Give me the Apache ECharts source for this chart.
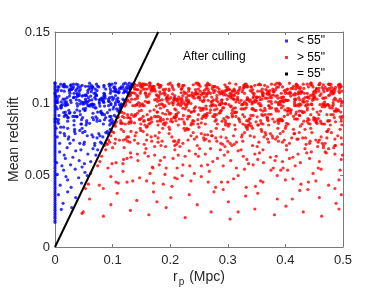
<!DOCTYPE html>
<html><head><meta charset="utf-8">
<script src="https://cdn.jsdelivr.net/npm/echarts@6/dist/echarts.min.js"></script>
<style>html,body{margin:0;padding:0;background:#fff}#c{width:382px;height:305px}</style>
</head><body><div id="c"></div>
<script>
// ---------- data ----------
const xTicks = [0, 0.1, 0.2, 0.3, 0.4, 0.5];
const yTicks = [0, 0.05, 0.1, 0.15];
const lineX = [0, 0.1792];          // = 55" boundary
const lineY = [0, 0.15];

// blue pairs sitting on r_p = 0
const blueAxisZ = [.0172,.0185,.0201,.0213,.0228,.0241,.0256,.0269,.0283,.0297,.0310,.0325,.0338,.0352,.0367,.0380,.0394,.0408,.0421,.0436,.0449,.0463,.0478,.0491,.0505,.0519,.0532,.0547,.0560,.0574,.0589,.0602,.0616,.0631,.0644,.0658,.0672,.0686,.0700,.0713,.0728,.0741,.0755,.0770,.0783,.0797,.0811,.0825,.0839,.0852,.0867,.0880,.0894,.0909,.0922,.0936,.0950,.0964,.0978,.0991,.1006,.1019,.1033,.1048,.1061,.1075,.1089,.1103,.1117,.1131,.1146];

const blueTop = [[.004,.1023],[.004,.1038],[.001,.1053],[.005,.1098],[.002,.1053],[.007,.1053],[.000,.1143],[.005,.1008],
[.014,.1121],[.018,.1001],[.011,.1091],[.018,.1121],[.017,.1031],[.014,.1031],[.010,.1136],[.016,.1136],
[.028,.1008],[.027,.1128],[.025,.1098],[.029,.1098],[.027,.1023],[.028,.1113],[.025,.1053],[.027,.1098],
[.039,.1061],[.038,.1001],[.037,.1046],[.031,.1106],[.036,.1091],[.037,.1136],[.033,.1046],[.032,.1136],
[.049,.1008],[.047,.1053],[.042,.1068],[.047,.1128],[.044,.1098],[.042,.1023],[.040,.1113],[.040,.1053],
[.058,.1121],[.055,.1001],[.053,.1121],[.057,.1076],[.053,.1061],[.053,.1031],[.057,.1091],[.054,.1016],
[.065,.1113],[.062,.1113],[.063,.1083],[.060,.1023],[.063,.1128],[.064,.1098],[.062,.1053],[.060,.1143],
[.071,.1031],[.072,.1136],[.077,.1001],[.072,.1061],[.079,.1031],[.074,.1121],[.073,.1091],[.070,.1076],
[.085,.1128],[.085,.1008],[.087,.1053],[.087,.1038],[.081,.1038],[.086,.1068],[.084,.1023],[.082,.1023],
[.094,.1136],[.097,.1001],[.099,.1136],[.099,.1046],[.095,.1121],[.093,.1016],[.094,.1016],[.093,.1031],
[.102,.1038],[.106,.1098],[.105,.1143],[.102,.1113],[.105,.1008],[.105,.1083],[.109,.1038],[.107,.1083],
[.115,.1106],[.119,.1136],[.119,.1076],[.110,.1076],[.110,.1016],[.111,.1076],[.112,.1106],[.118,.1031],
[.120,.1098],[.121,.1083],[.124,.1113],[.120,.1023],[.122,.1143],[.125,.1083],[.129,.1143],
[.131,.1121],[.133,.1136],[.135,.1136],[.130,.1106]];

const blueTopExtra = [[.002,.1012],[.005,.1117],[.000,.1072],[.007,.1117],[.004,.1087],[.003,.1012],
[.011,.1012],[.015,.1132],[.016,.1087],[.016,.1117],[.017,.1012],[.013,.0993],
[.021,.1042],[.020,.1012],[.025,.1087],[.021,.1117],[.026,.1072],[.028,.1132],
[.038,.1102],[.032,.1042],[.037,.1027],[.033,.1072],[.032,.1117],[.038,.1072],
[.040,.1132],[.042,.1087],[.044,.1117],[.046,.1012],[.042,.1057],[.049,.1057],
[.059,.1102],[.057,.1012],[.055,.1057],[.052,.1012],[.058,.1042],[.053,.1057],
[.062,.0993],[.064,.1027],[.068,.1072],[.066,.1117],[.066,.0993],[.069,.1042],
[.071,.1057],[.076,.1117],[.072,.1057],[.077,.1027],[.070,.1102],[.077,.1012],
[.084,.1042],[.085,.1117],[.085,.1057],[.088,.1102],[.084,.1012],[.085,.1072],
[.096,.1072],[.097,.0993],[.096,.1132],[.096,.1102],[.097,.1087],[.095,.1042],
[.107,.1027],[.100,.1027],[.102,.1087],[.104,.1117],[.105,.1057],[.104,.1102],
[.110,.1012],[.115,.1117],[.118,.1117],[.118,.0993],[.111,.1087],[.112,.0993],
[.127,.1072],[.122,.1087],[.125,.1102],[.128,.1117],[.126,.1132],
[.131,.1117],[.134,.1132],[.130,.1102]];

const blueMid = [[.006,.0888],[.000,.0873],[.004,.0963],[.002,.0978],[.005,.0873],[.007,.0918],
[.011,.0971],[.016,.0911],[.010,.0971],[.018,.0986],[.011,.0986],[.018,.0941],
[.020,.0993],[.025,.0933],[.022,.0903],[.022,.0993],[.023,.0903],[.020,.0918],
[.038,.0911],[.033,.0851],[.038,.0956],[.031,.0911],[.033,.0881],[.034,.0911],
[.045,.0858],[.048,.0903],[.049,.0963],[.046,.0888],[.046,.0858],[.043,.0948],
[.052,.0956],[.059,.0986],[.055,.0881],[.055,.0866],[.054,.0851],[.057,.0986],
[.068,.0993],[.066,.0978],[.067,.0888],[.065,.0903],[.063,.0993],[.066,.0933],
[.074,.0941],[.073,.0896],[.071,.0971],[.070,.0971],[.078,.0881],[.079,.0941],
[.084,.0858],[.086,.0888],[.080,.0948],[.081,.0933],[.082,.0933],[.088,.0903],
[.095,.0881],[.093,.0986],[.095,.0851],[.095,.0911],[.097,.0911],[.095,.0956],
[.102,.0978],[.107,.0963],[.105,.0993],[.109,.0948],[.101,.0963],[.103,.0918],
[.111,.0956],[.113,.0971],[.115,.0986],[.117,.0986],[.112,.0941],
[.002,.0893],[.006,.0863],[.000,.0893],[.010,.0983],[.015,.0938],[.018,.0923],
[.024,.0953],[.026,.0938],[.022,.0878],[.034,.0938],[.038,.0908],[.039,.0983],
[.048,.0998],[.043,.0998],[.044,.0923],[.053,.0968],[.050,.0998],[.052,.0953],
[.065,.0998],[.061,.0983],[.060,.0863],[.073,.0878],[.071,.0908],[.078,.0983],
[.082,.0923],[.086,.0923],[.086,.0983],[.091,.0938],[.097,.0863],[.098,.0893],
[.106,.0908],[.100,.0878],[.100,.0863],[.115,.0998],[.114,.0983],[.115,.0983],
[.009,.0798],[.004,.0768],[.002,.0828],[.008,.0723],[.010,.0836],[.017,.0776],[.016,.0791],[.015,.0836],
[.023,.0753],[.024,.0768],[.026,.0723],[.022,.0828],[.034,.0806],[.035,.0791],[.034,.0821],[.032,.0746],
[.043,.0813],[.048,.0798],[.047,.0828],[.043,.0723],[.056,.0776],[.052,.0806],[.051,.0731],[.050,.0716],
[.069,.0708],[.069,.0723],[.064,.0783],[.066,.0768],[.078,.0776],[.076,.0791],[.079,.0731],[.073,.0761],
[.083,.0768],[.088,.0798],[.081,.0723],[.092,.0791],[.096,.0821],[.091,.0806]];

const blueLow = [[.003,.0588],[.008,.0663],[.012,.0566],[.016,.0641],[.021,.0693],[.027,.0573],[.031,.0626],[.036,.0671],[.042,.0603],[.045,.0678],[.051,.0581],[.057,.0648],[.062,.0596],[.066,.0686],[.071,.0641],[.074,.0678],[.018,.0618],[.047,.0558],
[.004,.0506],[.009,.0431],[.015,.0536],[.022,.0468],[.028,.0416],[.035,.0543],[.041,.0483],[.046,.0446],[.052,.0521],[.056,.0498],[.019,.0491],
[.006,.0365],[.014,.0305],[.022,.0385],[.029,.0275],[.036,.0345],[.011,.0262]];

const redTop = [[.122,.1008],[.126,.1023],[.128,.1053],[.124,.1016],
[.131,.1061],[.131,.1076],[.139,.1031],[.136,.1076],[.133,.1076],[.138,.1136],[.137,.1136],[.133,.1031],
[.143,.1128],[.144,.1098],[.142,.1098],[.144,.1053],[.148,.1128],[.143,.1038],[.147,.1143],[.145,.1008],
[.152,.1121],[.158,.1061],[.151,.1136],[.157,.1016],[.156,.1136],[.153,.1136],[.159,.1046],[.157,.1076],
[.161,.1008],[.165,.1128],[.162,.1008],[.169,.1113],[.164,.1143],[.164,.1068],[.165,.1143],[.162,.1053],
[.170,.1106],[.178,.1016],[.176,.1061],[.170,.1091],[.172,.1121],[.176,.1031],[.170,.1121],[.179,.1136],
[.188,.1098],[.182,.1128],[.180,.1053],[.184,.1128],[.182,.1083],[.183,.1068],[.182,.1023],[.181,.1113],
[.190,.1091],[.197,.1136],[.198,.1031],[.191,.1061],[.198,.1001],[.198,.1091],[.195,.1016],[.193,.1031],
[.208,.1038],[.203,.1008],[.206,.1098],[.204,.1113],[.200,.1143],[.203,.1128],[.204,.1068],[.206,.1008],
[.219,.1076],[.215,.1001],[.215,.1121],[.212,.1031],[.213,.1016],[.217,.1031],[.215,.1046],[.215,.1136],
[.224,.1008],[.228,.1023],[.222,.1128],[.224,.1128],[.221,.1023],[.221,.1113],[.224,.1083],[.220,.1038],
[.238,.1061],[.231,.1001],[.232,.1106],[.230,.1016],[.239,.1046],[.238,.1076],[.232,.1016],[.236,.1001],
[.245,.1083],[.245,.1143],[.246,.1068],[.244,.1098],[.242,.1038],[.249,.1068],[.248,.1143],[.245,.1068],
[.259,.1046],[.250,.1046],[.258,.1016],[.259,.1091],[.254,.1061],[.252,.1121],[.256,.1016],[.250,.1136],
[.267,.1083],[.266,.1098],[.265,.1143],[.263,.1053],[.264,.1068],[.266,.1023],[.262,.1128],[.264,.1113],
[.275,.1091],[.274,.1121],[.272,.1046],[.273,.1106],[.278,.1091],[.277,.1121],[.273,.1016],[.276,.1076],
[.282,.1113],[.281,.1038],[.280,.1023],[.289,.1008],[.289,.1023],[.284,.1083],[.286,.1068],[.288,.1083],
[.296,.1091],[.299,.1031],[.293,.1061],[.296,.1001],[.297,.1061],[.298,.1091],[.291,.1001],[.294,.1076],
[.304,.1053],[.302,.1098],[.306,.1068],[.308,.1038],[.301,.1053],[.303,.1143],[.303,.1098],[.300,.1113],
[.312,.1091],[.310,.1031],[.314,.1136],[.311,.1061],[.311,.1031],[.317,.1046],[.317,.1031],[.314,.1076],
[.328,.1113],[.320,.1008],[.326,.1098],[.320,.1098],[.323,.1023],[.325,.1083],[.328,.1128],[.321,.1113],
[.334,.1121],[.338,.1016],[.335,.1031],[.330,.1136],[.332,.1001],[.339,.1091],[.332,.1121],[.332,.1136],
[.342,.1083],[.344,.1008],[.349,.1023],[.347,.1023],[.345,.1053],[.346,.1068],[.343,.1098],[.347,.1128],
[.359,.1031],[.355,.1136],[.350,.1046],[.356,.1001],[.350,.1016],[.351,.1046],[.353,.1001],[.355,.1046],
[.360,.1083],[.364,.1128],[.368,.1038],[.360,.1068],[.366,.1098],[.365,.1038],[.361,.1053],[.368,.1068],
[.371,.1061],[.376,.1136],[.375,.1016],[.379,.1061],[.371,.1076],[.371,.1016],[.376,.1001],[.373,.1091],
[.383,.1053],[.380,.1083],[.387,.1038],[.387,.1008],[.383,.1098],[.385,.1113],[.385,.1143],[.389,.1143],
[.391,.1136],[.395,.1046],[.390,.1136],[.392,.1016],[.398,.1091],[.391,.1016],[.397,.1046],[.398,.1016],
[.409,.1053],[.402,.1098],[.401,.1023],[.407,.1143],[.403,.1023],[.400,.1083],[.405,.1023],[.408,.1083],
[.414,.1121],[.410,.1106],[.414,.1061],[.416,.1031],[.413,.1106],[.419,.1136],[.418,.1031],[.417,.1061],
[.429,.1083],[.426,.1113],[.423,.1083],[.421,.1128],[.428,.1083],[.427,.1083],[.422,.1113],[.422,.1068],
[.438,.1136],[.431,.1031],[.432,.1106],[.439,.1046],[.438,.1016],[.438,.1046],[.430,.1016],[.431,.1136],
[.444,.1143],[.441,.1038],[.447,.1023],[.448,.1038],[.446,.1128],[.448,.1068],[.445,.1143],[.449,.1083],
[.450,.1061],[.455,.1031],[.453,.1076],[.453,.1091],[.450,.1031],[.458,.1106],[.454,.1106],[.451,.1046],
[.465,.1038],[.466,.1098],[.462,.1068],[.469,.1113],[.467,.1083],[.467,.1038],[.464,.1113],[.460,.1143],
[.473,.1091],[.479,.1136],[.479,.1076],[.475,.1136],[.477,.1061],[.479,.1091],[.476,.1136],[.476,.1106],
[.486,.1038],[.487,.1113],[.482,.1068],[.480,.1113],[.486,.1098],[.483,.1008],[.483,.1083],[.485,.1083],
[.494,.1106],[.495,.1136],[.494,.1076],[.497,.1016],[.493,.1121],[.492,.1016],[.497,.1121],[.495,.1031]];

const redTopExtra = [[.122,.1012],[.126,.1027],[.123,.0993],
[.139,.1072],[.130,.1057],[.138,.1117],[.130,.1012],[.136,.1117],[.138,.1102],
[.142,.1057],[.142,.0993],[.149,.1087],[.149,.1117],[.140,.1102],[.148,.1072],
[.156,.1132],[.156,.1102],[.151,.1117],[.157,.1072],[.153,.1102],[.159,.1132],
[.164,.1117],[.160,.1102],[.163,.1012],[.167,.1087],[.166,.1102],[.169,.1102],
[.173,.1102],[.179,.1132],[.170,.1102],[.173,.1027],[.174,.1087],[.178,.1057],
[.186,.1027],[.181,.0993],[.187,.0993],[.183,.1117],[.188,.1072],[.180,.1042],
[.198,.1102],[.195,.1042],[.194,.1042],[.192,.1102],[.196,.1057],[.191,.1072],
[.207,.1027],[.207,.1042],[.205,.0993],[.201,.1042],[.208,.1057],[.206,.1027],
[.213,.0993],[.219,.1012],[.212,.1027],[.219,.1102],[.210,.1027],[.214,.1132],
[.222,.1057],[.228,.1042],[.226,.0993],[.225,.1072],[.228,.1072],[.220,.1102],
[.233,.1102],[.232,.1012],[.232,.1087],[.234,.1057],[.231,.1027],[.231,.1057],
[.249,.1102],[.240,.1132],[.249,.1132],[.243,.1072],[.248,.1042],[.241,.1057],
[.251,.1042],[.252,.1027],[.252,.1087],[.256,.1072],[.259,.1027],[.257,.1072],
[.260,.1072],[.265,.1132],[.262,.1102],[.265,.1072],[.267,.1132],[.269,.1132],
[.275,.0993],[.270,.1072],[.271,.1012],[.275,.1027],[.277,.1117],[.272,.0993],
[.286,.0993],[.285,.1102],[.281,.1057],[.287,.0993],[.283,.1012],[.289,.1072],
[.295,.1132],[.299,.1102],[.291,.1087],[.290,.1072],[.297,.1117],[.290,.1027],
[.307,.1057],[.305,.1042],[.304,.1072],[.309,.1087],[.308,.1087],[.302,.0993],
[.311,.1057],[.317,.1027],[.318,.1072],[.311,.1102],[.314,.1012],[.318,.1087],
[.324,.0993],[.328,.1117],[.329,.1012],[.329,.1117],[.326,.0993],[.329,.1072],
[.335,.1027],[.333,.1027],[.339,.1027],[.333,.0993],[.334,.1117],[.334,.1042],
[.340,.1117],[.347,.1012],[.344,.1042],[.342,.1012],[.344,.1072],[.341,.1117],
[.353,.1132],[.357,.1087],[.352,.1087],[.350,.1042],[.356,.1027],[.357,.1132],
[.369,.1072],[.362,.1072],[.361,.1057],[.360,.1102],[.369,.1117],[.369,.1087],
[.378,.1102],[.372,.1072],[.373,.1042],[.379,.1087],[.375,.1057],[.376,.1042],
[.383,.1012],[.388,.0993],[.388,.1117],[.382,.1132],[.386,.1057],[.380,.1087],
[.392,.0993],[.396,.1012],[.395,.1027],[.395,.1117],[.393,.1072],[.392,.1042],
[.409,.1072],[.400,.1072],[.404,.1102],[.404,.1072],[.407,.1072],[.400,.1027],
[.418,.1102],[.417,.1072],[.419,.1132],[.416,.1012],[.417,.1027],[.419,.1117],
[.423,.1072],[.425,.1102],[.425,.1027],[.422,.0993],[.423,.1042],[.427,.1072],
[.433,.1012],[.438,.1072],[.437,.0993],[.431,.1012],[.433,.1072],[.434,.1042],
[.447,.1057],[.446,.0993],[.443,.1057],[.440,.1117],[.444,.1132],[.448,.1117],
[.454,.1102],[.451,.1087],[.450,.1042],[.458,.1087],[.458,.1132],[.459,.1132],
[.467,.0993],[.466,.1132],[.469,.0993],[.460,.1057],[.468,.1012],[.465,.0993],
[.473,.0993],[.475,.1057],[.474,.0993],[.472,.1102],[.477,.1132],[.470,.1042],
[.481,.1087],[.484,.1072],[.484,.1027],[.484,.1102],[.488,.1027],[.483,.0993],
[.496,.1117],[.494,.1132],[.492,.1132],[.493,.1087],[.499,.1012],[.498,.1087]];

const redMid = [[.102,.0851],[.104,.0858],[.107,.0873],[.109,.0903],
[.115,.0866],[.116,.0941],[.114,.0881],[.117,.0911],[.114,.0941],
[.126,.0903],[.129,.0873],[.129,.0903],[.122,.0858],[.120,.0903],[.120,.0933],
[.139,.0986],[.132,.0866],[.138,.0866],[.137,.0911],[.131,.0896],[.135,.0986],
[.146,.0948],[.142,.0993],[.140,.0918],[.143,.0933],[.147,.0888],[.149,.0858],
[.150,.0896],[.153,.0911],[.152,.0986],[.155,.0881],[.156,.0851],[.155,.0986],
[.165,.0948],[.163,.0858],[.167,.0903],[.168,.0873],[.163,.0888],[.162,.0888],
[.178,.0941],[.172,.0956],[.179,.0911],[.173,.0911],[.179,.0851],[.177,.0941],
[.183,.0888],[.183,.0903],[.188,.0888],[.189,.0978],[.188,.0858],[.187,.0933],
[.193,.0866],[.199,.0926],[.192,.0926],[.191,.0851],[.191,.0986],[.190,.0866],
[.201,.0933],[.207,.0903],[.208,.0903],[.204,.0873],[.208,.0963],[.209,.0903],
[.210,.0956],[.210,.0881],[.211,.0926],[.214,.0851],[.218,.0986],[.211,.0911],
[.229,.0993],[.223,.0918],[.228,.0978],[.224,.0873],[.226,.0963],[.225,.0858],
[.239,.0881],[.234,.0911],[.237,.0941],[.231,.0911],[.236,.0851],[.236,.0941],
[.248,.0858],[.248,.0888],[.242,.0948],[.244,.0978],[.240,.0858],[.241,.0948],
[.258,.0911],[.257,.0956],[.254,.0866],[.251,.0971],[.255,.0896],[.257,.0911],
[.262,.0903],[.264,.0933],[.264,.0918],[.262,.0918],[.263,.0963],[.261,.0858],
[.277,.0926],[.273,.0986],[.270,.0956],[.277,.0956],[.274,.0911],[.279,.0986],
[.282,.0858],[.286,.0993],[.285,.0933],[.281,.0963],[.280,.0888],[.287,.0948],
[.291,.0971],[.293,.0971],[.296,.0851],[.296,.0881],[.296,.0866],[.293,.0896],
[.301,.0903],[.308,.0918],[.305,.0978],[.303,.0858],[.300,.0858],[.307,.0933],
[.312,.0851],[.314,.0911],[.319,.0896],[.313,.0971],[.312,.0941],[.315,.0941],
[.320,.0888],[.329,.0963],[.326,.0858],[.326,.0963],[.323,.0963],[.321,.0873],
[.333,.0881],[.330,.0851],[.337,.0851],[.339,.0896],[.332,.0971],[.335,.0851],
[.349,.0873],[.342,.0963],[.344,.0918],[.343,.0963],[.344,.0963],[.340,.0918],
[.357,.0881],[.353,.0851],[.356,.0986],[.358,.0986],[.357,.0956],[.352,.0851],
[.369,.0903],[.361,.0858],[.361,.0918],[.361,.0948],[.369,.0888],[.368,.0903],
[.376,.0971],[.371,.0986],[.370,.0881],[.375,.0926],[.371,.0926],[.371,.0851],
[.388,.0948],[.385,.0963],[.384,.0948],[.383,.0963],[.387,.0888],[.381,.0873],
[.391,.0881],[.395,.0881],[.393,.0971],[.399,.0956],[.398,.0911],[.394,.0881],
[.405,.0858],[.405,.0948],[.409,.0933],[.403,.0948],[.409,.0948],[.407,.0963],
[.410,.0956],[.418,.0926],[.414,.0911],[.419,.0986],[.416,.0986],[.419,.0941],
[.427,.0993],[.424,.0948],[.428,.0948],[.424,.0918],[.425,.0918],[.429,.0858],
[.435,.0986],[.438,.0956],[.439,.0896],[.431,.0941],[.433,.0941],[.438,.0971],
[.449,.0888],[.443,.0858],[.440,.0993],[.448,.0963],[.449,.0903],[.441,.0888],
[.454,.0866],[.454,.0881],[.451,.0896],[.455,.0941],[.452,.0896],[.457,.0896],
[.460,.0993],[.465,.0858],[.464,.0978],[.468,.0858],[.461,.0948],[.468,.0978],
[.477,.0881],[.474,.0881],[.470,.0986],[.476,.0986],[.478,.0851],[.477,.0971],
[.485,.0948],[.489,.0948],[.487,.0873],[.488,.0963],[.485,.0903],[.487,.0948],
[.499,.0911],[.498,.0851],[.497,.0896],[.491,.0956],[.496,.0941],[.497,.0986]];

const redMidExtra = [[.117,.0863],[.114,.0863],[.110,.0908],[.121,.0983],[.126,.0923],[.128,.0863],
[.133,.0923],[.132,.0878],[.139,.0923],[.148,.0998],[.147,.0893],[.147,.0983],
[.152,.0998],[.150,.0953],[.154,.0878],[.160,.0923],[.165,.0863],[.167,.0893],
[.176,.0908],[.176,.0983],[.178,.0878],[.183,.0878],[.183,.0968],[.185,.0998],
[.198,.0938],[.195,.0893],[.195,.0953],[.201,.0878],[.207,.0908],[.202,.0893],
[.210,.0923],[.216,.0893],[.214,.0938],[.220,.0998],[.221,.0893],[.222,.0968],
[.237,.0863],[.230,.0893],[.232,.0953],[.249,.0923],[.241,.0878],[.242,.0968],
[.255,.0968],[.253,.0953],[.258,.0968],[.262,.0983],[.260,.0923],[.269,.0938],
[.277,.0908],[.278,.0878],[.270,.0983],[.289,.0953],[.287,.0938],[.280,.0923],
[.290,.0878],[.298,.0908],[.296,.0998],[.308,.0953],[.308,.0908],[.306,.0983],
[.314,.0938],[.310,.0968],[.312,.0938],[.327,.0998],[.329,.0908],[.326,.0923],
[.337,.0893],[.339,.0863],[.336,.0878],[.347,.0953],[.342,.0998],[.349,.0953],
[.359,.0923],[.351,.0908],[.358,.0863],[.364,.0968],[.365,.0953],[.365,.0923],
[.378,.0893],[.373,.0968],[.372,.0983],[.389,.0998],[.387,.0878],[.388,.0863],
[.393,.0893],[.396,.0983],[.390,.0893],[.404,.0968],[.404,.0923],[.402,.0863],
[.416,.0893],[.419,.0893],[.416,.0998],[.421,.0893],[.424,.0983],[.425,.0998],
[.430,.0938],[.432,.0878],[.438,.0878],[.440,.0863],[.444,.0923],[.445,.0998],
[.458,.0923],[.452,.0878],[.455,.0863],[.465,.0998],[.461,.0878],[.462,.0863],
[.472,.0923],[.479,.0923],[.474,.0878],[.483,.0923],[.481,.0968],[.482,.0983],
[.495,.0908],[.492,.0953],[.497,.0878]];

const redBelow = [[.086,.0708],[.089,.0723],[.091,.0716],[.093,.0746],[.095,.0731],[.097,.0776],[.099,.0806],
[.104,.0723],[.105,.0843],[.102,.0798],[.105,.0753],[.115,.0821],[.119,.0806],[.119,.0746],[.112,.0746],
[.128,.0768],[.126,.0738],[.125,.0768],[.123,.0753],[.138,.0746],[.132,.0806],[.139,.0776],[.130,.0731],
[.148,.0828],[.144,.0723],[.149,.0813],[.141,.0798],[.159,.0746],[.159,.0836],[.153,.0806],[.155,.0716],
[.160,.0783],[.168,.0738],[.160,.0843],[.167,.0768],[.179,.0761],[.174,.0776],[.179,.0731],[.173,.0701],
[.187,.0828],[.181,.0798],[.184,.0708],[.186,.0738],[.198,.0791],[.192,.0701],[.198,.0836],[.199,.0821],
[.206,.0738],[.208,.0708],[.203,.0768],[.208,.0738],[.215,.0746],[.214,.0731],[.211,.0716],[.217,.0701],
[.226,.0813],[.229,.0828],[.222,.0723],[.224,.0828],[.230,.0821],[.236,.0776],[.231,.0746],[.232,.0821],
[.242,.0753],[.240,.0798],[.246,.0768],[.247,.0708],[.259,.0746],[.258,.0761],[.254,.0791],[.250,.0836],
[.265,.0783],[.260,.0783],[.268,.0738],[.262,.0753],[.271,.0806],[.272,.0776],[.273,.0776],[.279,.0761],
[.280,.0828],[.281,.0738],[.288,.0768],[.288,.0723],[.291,.0716],[.297,.0761],[.295,.0701],[.292,.0821],
[.304,.0723],[.300,.0738],[.307,.0708],[.301,.0843],[.313,.0821],[.315,.0731],[.311,.0716],[.310,.0776],
[.325,.0783],[.329,.0798],[.324,.0768],[.326,.0738],[.332,.0836],[.334,.0821],[.339,.0776],[.334,.0836],
[.343,.0708],[.343,.0828],[.341,.0843],[.346,.0768],[.354,.0731],[.358,.0821],[.351,.0701],[.359,.0806],
[.365,.0798],[.366,.0783],[.369,.0753],[.363,.0768],[.374,.0791],[.371,.0731],[.378,.0761],[.377,.0776],
[.386,.0768],[.388,.0738],[.383,.0753],[.387,.0828],[.396,.0806],[.398,.0746],[.391,.0791],[.395,.0731],
[.407,.0723],[.402,.0708],[.401,.0843],[.400,.0828],[.411,.0761],[.415,.0791],[.414,.0821],[.416,.0791],
[.426,.0843],[.422,.0753],[.424,.0798],[.420,.0753],[.434,.0821],[.436,.0716],[.430,.0761],[.435,.0761],
[.443,.0738],[.446,.0798],[.444,.0828],[.442,.0723],[.453,.0746],[.459,.0746],[.456,.0701],[.457,.0731],
[.466,.0708],[.462,.0768],[.469,.0723],[.464,.0723],[.472,.0806],[.473,.0806],[.472,.0761],[.475,.0821],
[.487,.0708],[.480,.0798],[.486,.0708],[.486,.0753],[.491,.0776],[.495,.0821],[.498,.0716],[.497,.0761]];

const redLow = [[.074,.0566],[.078,.0596],[.088,.0678],[.081,.0633],[.092,.0551],[.099,.0581],[.100,.0693],[.106,.0588],
[.118,.0581],[.119,.0611],[.125,.0618],[.120,.0693],[.131,.0656],[.132,.0626],[.143,.0648],[.144,.0603],
[.156,.0656],[.158,.0686],[.162,.0633],[.169,.0558],[.173,.0641],[.170,.0551],[.181,.0573],[.183,.0603],
[.190,.0626],[.193,.0551],[.205,.0618],[.208,.0678],[.212,.0551],[.214,.0641],[.226,.0633],[.222,.0573],
[.233,.0671],[.234,.0566],[.244,.0648],[.249,.0633],[.251,.0686],[.254,.0566],[.265,.0573],[.261,.0648],
[.270,.0686],[.274,.0596],[.282,.0618],[.287,.0678],[.294,.0641],[.292,.0566],[.300,.0663],[.305,.0603],
[.318,.0671],[.315,.0551],[.323,.0678],[.327,.0633],[.333,.0611],[.336,.0581],[.347,.0648],[.344,.0573],
[.355,.0656],[.352,.0611],[.361,.0678],[.362,.0588],[.374,.0626],[.379,.0551],[.384,.0633],[.382,.0603],
[.395,.0596],[.396,.0551],[.402,.0678],[.407,.0618],[.417,.0566],[.413,.0626],[.422,.0648],[.426,.0588],
[.434,.0686],[.437,.0656],[.445,.0663],[.442,.0618],[.457,.0551],[.459,.0596],[.466,.0693],[.469,.0663],
[.475,.0686],[.471,.0656],[.484,.0693],[.486,.0648],[.499,.0641],[.497,.0611],
[.053,.0408],[.058,.0438],[.062,.0513],[.077,.0431],[.084,.0408],[.097,.0491],[.106,.0453],[.110,.0446],
[.125,.0453],[.135,.0461],[.147,.0483],[.159,.0461],[.165,.0513],[.171,.0446],[.188,.0438],[.191,.0506],
[.208,.0483],[.212,.0476],[.221,.0498],[.236,.0461],[.242,.0513],[.254,.0491],[.266,.0453],[.279,.0416],
[.289,.0453],[.292,.0401],[.300,.0453],[.310,.0476],[.329,.0543],[.332,.0416],[.348,.0423],[.357,.0461],
[.361,.0453],[.375,.0536],[.386,.0498],[.392,.0536],[.400,.0468],[.413,.0476],[.427,.0438],[.439,.0401],
[.440,.0453],[.453,.0461],[.462,.0543],[.475,.0431],[.486,.0408],[.495,.0536],
[.118,.0528],[.203,.0423],[.268,.0528],[.318,.0498],[.404,.0536],[.448,.0513],[.493,.0468],
[.047,.0235],[.049,.0245],[.060,.0335],[.084,.0215],[.097,.0295],[.108,.0375],[.131,.0255],[.142,.0325],
[.163,.0225],[.171,.0385],[.193,.0275],[.201,.0345],[.226,.0205],[.233,.0365],[.247,.0295],[.271,.0245],
[.276,.0385],[.301,.0315],[.304,.0195],[.331,.0355],[.347,.0265],[.352,.0375],[.381,.0225],[.386,.0335],
[.401,.0285],[.425,.0395],[.431,.0245],[.459,.0345],[.463,.0215],[.488,.0305],[.493,.0265],[.497,.0365],
[.177,.0315],[.318,.0245],[.412,.0335]];

// ---------- chart ----------
const FONT = "'Liberation Sans', Arial, Helvetica, sans-serif";
const AX = '#262626';
const AXL = '#7a7a7a';
const bluePts = blueAxisZ.map(z => [0, z]).concat(blueTop, blueTopExtra, blueMid, blueLow);
const redPts = redTop.concat(redTopExtra, redMid, redMidExtra, redBelow, redLow);
const linePts = lineX.map((x, i) => [x, lineY[i]]);

const axX = {
  type: 'value', min: xTicks[0], max: xTicks[xTicks.length - 1], interval: xTicks[1] - xTicks[0],
  splitLine: { show: false },
  axisLine: { show: true, onZero: false, lineStyle: { color: AXL, width: 1 } },
  axisTick: { show: true, inside: true, length: 3, lineStyle: { color: AXL } }
};
const axY = {
  type: 'value', min: yTicks[0], max: yTicks[yTicks.length - 1], interval: yTicks[1] - yTicks[0],
  splitLine: { show: false },
  axisLine: { show: true, onZero: false, lineStyle: { color: AXL, width: 1 } },
  axisTick: { show: true, inside: true, length: 3, lineStyle: { color: AXL } }
};
const SYM = 3.2;

const chart = echarts.init(document.getElementById('c'), null, { renderer: 'canvas' });
chart.setOption({
  animation: false,
  backgroundColor: '#fff',
  textStyle: { fontFamily: FONT },
  grid: { left: 55, top: 32, right: 39, bottom: 58, containLabel: false, outerBoundsMode: 'none' },
  title: {
    text: 'After culling', left: 183, top: 51, padding: 0,
    textStyle: { fontSize: 12, fontWeight: 'normal', color: '#000', fontFamily: FONT }
  },
  legend: {
    orient: 'vertical', left: 285, top: 34, padding: 0,
    itemWidth: 3, itemHeight: 3, itemGap: 2.5,
    textStyle: { fontSize: 12, color: '#000', fontFamily: FONT, lineHeight: 14, padding: [0, 0, 0, 4] },
    data: [
      { name: '< 55"', icon: 'rect' },
      { name: '> 55"', icon: 'rect' },
      { name: '= 55"', icon: 'rect' }
    ]
  },
  xAxis: [
    Object.assign({}, axX, {
      position: 'bottom',
      name: '{i|r}{s|p}{i| (Mpc)}', nameLocation: 'middle', nameGap: 21, nameMoveOverlap: false,
      nameTextStyle: {
        color: AX, fontFamily: FONT, fontSize: 14,
        rich: {
          i: { fontSize: 14, color: AX, fontFamily: FONT },
          s: { fontSize: 10, color: AX, fontFamily: FONT, padding: [9, 1, 0, 1] }
        }
      },
      axisLabel: { show: true, color: AX, fontSize: 13, fontFamily: FONT, margin: 7 }
    }),
    Object.assign({}, axX, { position: 'top', axisLabel: { show: false } })
  ],
  yAxis: [
    Object.assign({}, axY, {
      position: 'left',
      name: 'Mean redshift', nameLocation: 'middle', nameGap: 34, nameMoveOverlap: false,
      nameTextStyle: { color: AX, fontFamily: FONT, fontSize: 14 },
      axisLabel: { show: true, color: AX, fontSize: 13, fontFamily: FONT, margin: 5 }
    }),
    Object.assign({}, axY, { position: 'right', axisLabel: { show: false } })
  ],
  series: [
    {
      name: '< 55"', type: 'scatter', data: bluePts, symbol: 'circle', symbolSize: SYM,
      itemStyle: { color: '#0000ff' }, silent: true
    },
    {
      name: '> 55"', type: 'scatter', data: redPts, symbol: 'circle', symbolSize: SYM,
      itemStyle: { color: '#ff0000' }, silent: true
    },
    {
      name: '= 55"', type: 'line', data: linePts, symbol: 'none', clip: true,
      lineStyle: { color: '#000', width: 2 }, itemStyle: { color: '#000' }, silent: true
    }
  ]
});
</script>
</body></html>
